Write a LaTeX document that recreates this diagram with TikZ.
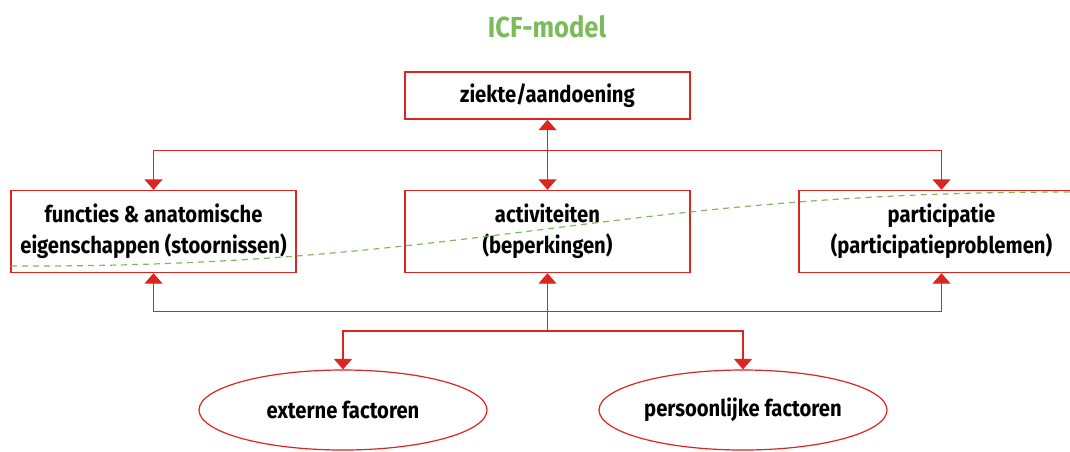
\documentclass[tikz,border=0pt]{standalone}
\usepackage{fontspec}
\setmainfont{Fira Sans}[FakeStretch=0.88]
\usetikzlibrary{arrows.meta,shapes.geometric}
\definecolor{icfred}{RGB}{218,38,30}
\definecolor{icfgreen}{RGB}{124,187,91}
\tikzset{
  box/.style={draw=icfred, line width=1.4pt, minimum width=285pt, inner sep=0pt, align=center, font=\fontsize{23}{31}\selectfont\bfseries},
  oval/.style={ellipse, draw=icfred, line width=1.2pt, minimum width=288pt, minimum height=80pt, inner sep=0pt, font=\fontsize{23}{31}\selectfont\bfseries},
  conn/.style={draw=icfred, line width=1.3pt},
  tip/.style={-{Triangle[width=18pt,length=10.5pt]}},
  tips/.style={{Triangle[width=18pt,length=10.5pt]}-{Triangle[width=18pt,length=10.5pt]}},
}
\begin{document}
\begin{tikzpicture}[x=1pt,y=-1pt]
\clip (0,0) rectangle (1070,451);
\node[font=\fontsize{29}{34}\selectfont\bfseries, text=icfgreen] (title) at (547,27) {ICF-model};
\node[box, minimum height=47pt] (zk) at (547.5,95.5) {ziekte/aandoening};
\node[box, minimum height=82pt] (fn) at (153.5,231.5) {functies \& anatomische\\eigenschappen (stoornissen)};
\node[box, minimum height=82pt] (ac) at (547.5,231.5) {activiteiten\\(beperkingen)};
\node[box, minimum height=82pt] (pa) at (941.5,231.5) {participatie\\(participatieproblemen)};
\node[oval] (ext) at (343,410) {externe factoren};
\node[oval] (per) at (743,410) {persoonlijke factoren};
\coordinate (tb) at (547.5,150.7);
\coordinate (bb) at (547.5,311.7);
\coordinate (lb) at (547.5,331);
\draw[conn, tips] (zk.south) -- (ac.north);
\draw[conn, tip] (tb) -| (fn.north);
\draw[conn, tip] (tb) -| (pa.north);
\draw[conn, tip] (bb) -| (fn.south);
\draw[conn, tip] (bb) -| (pa.south);
\draw[conn, tip] (lb) -- (ac.south);
\draw[conn, tip] (lb) -| (ext.north);
\draw[conn, tip] (lb) -| (per.north);
\draw[icfgreen, line width=1.2pt, dash pattern=on 6pt off 5pt]
  (11,266) .. controls (470,268) and (610,192) .. (1070,192);
\end{tikzpicture}
\end{document}
